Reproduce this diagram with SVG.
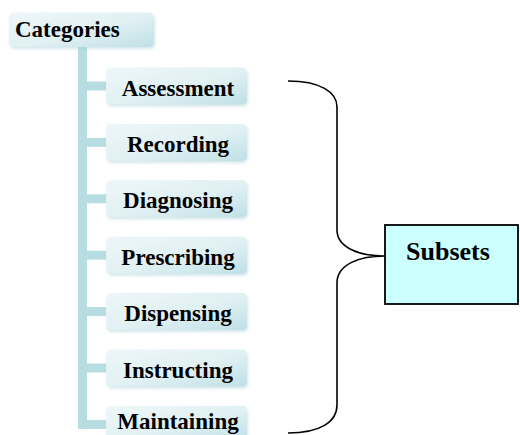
<svg xmlns="http://www.w3.org/2000/svg" width="520" height="435" viewBox="0 0 520 435">
  <defs>
    <linearGradient id="boxFill" x1="0" y1="0" x2="1" y2="1">
      <stop offset="0" stop-color="#eef7f8"/>
      <stop offset="0.55" stop-color="#e0f0f3"/>
      <stop offset="1" stop-color="#bfe0e6"/>
    </linearGradient>
    <filter id="soft" x="-10%" y="-20%" width="120%" height="150%">
      <feGaussianBlur in="SourceAlpha" stdDeviation="1.5"/>
      <feOffset dx="1" dy="1.5" result="b"/>
      <feFlood flood-color="#9fc9d0" flood-opacity="0.45"/>
      <feComposite in2="b" operator="in"/>
      <feMerge><feMergeNode/><feMergeNode in="SourceGraphic"/></feMerge>
    </filter>
  </defs>
  <style>
    .box { fill: url(#boxFill); filter: url(#soft); }
    .lbl { font-family: "Liberation Serif", "Times New Roman", serif; font-weight: bold; font-size: 23px; fill: #000; }
    .mid { text-anchor: middle; }
    .tree { fill: #b7dce2; }
    .brace { fill: none; stroke: #000; stroke-width: 1.6; }
  </style>

  <!-- tree connectors: trunk and branches -->
  <g id="connectors">
    <rect class="tree" x="78" y="47" width="9" height="382"/>
    <rect class="tree" x="78" y="81.5" width="30" height="9"/>
    <rect class="tree" x="78" y="137.9" width="30" height="9"/>
    <rect class="tree" x="78" y="194.3" width="30" height="9"/>
    <rect class="tree" x="78" y="250.7" width="30" height="9"/>
    <rect class="tree" x="78" y="307.1" width="30" height="9"/>
    <rect class="tree" x="78" y="363.5" width="30" height="9"/>
    <rect class="tree" x="78" y="419.9" width="30" height="9"/>
    <path class="brace" d="M288,81 C320,81 337,92 337,107 L337,230 C337,248 360,256 385,256 C360,256 337,264 337,283 L337,405 C337,422 320,433 288,433"/>
  </g>

  <g id="categories">
    <rect class="box" x="9" y="12.5" width="145" height="34.5" rx="5"/>
    <text class="lbl" x="15" y="36.7">Categories</text>
  </g>

  <g id="assessment">
    <rect class="box" x="106" y="67.5" width="141" height="37" rx="5"/>
    <text class="lbl mid" x="178" y="95.5">Assessment</text>
  </g>
  <g id="recording">
    <rect class="box" x="106" y="123.9" width="141" height="37" rx="5"/>
    <text class="lbl mid" x="178" y="151.9">Recording</text>
  </g>
  <g id="diagnosing">
    <rect class="box" x="106" y="180.3" width="141" height="37" rx="5"/>
    <text class="lbl mid" x="178" y="208.3">Diagnosing</text>
  </g>
  <g id="prescribing">
    <rect class="box" x="106" y="236.7" width="141" height="37" rx="5"/>
    <text class="lbl mid" x="178" y="264.7">Prescribing</text>
  </g>
  <g id="dispensing">
    <rect class="box" x="106" y="293.1" width="141" height="37" rx="5"/>
    <text class="lbl mid" x="178" y="321.1">Dispensing</text>
  </g>
  <g id="instructing">
    <rect class="box" x="106" y="349.5" width="141" height="37" rx="5"/>
    <text class="lbl mid" x="178" y="377.5">Instructing</text>
  </g>
  <g id="maintaining">
    <rect class="box" x="106" y="405.9" width="141" height="37" rx="5"/>
    <text class="lbl mid" x="178" y="429">Maintaining</text>
  </g>

  <g id="subsets">
    <rect x="385" y="225" width="133" height="79" fill="#ccffff" stroke="#000" stroke-width="1.8"/>
    <text class="lbl" x="406" y="260" style="font-size:26px">Subsets</text>
  </g>
</svg>
